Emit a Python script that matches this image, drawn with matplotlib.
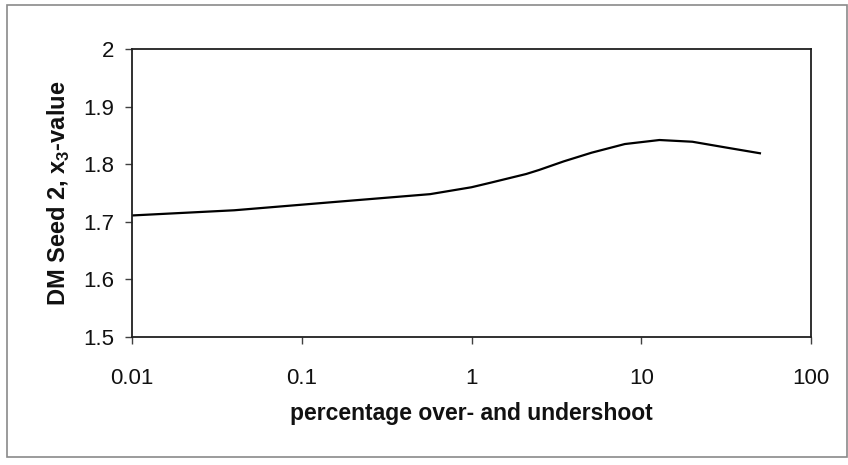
import matplotlib
matplotlib.use("Agg")
import matplotlib.pyplot as plt
from matplotlib.ticker import FuncFormatter, FixedLocator, NullLocator
from matplotlib.patches import Rectangle

plt.rcParams['font.family'] = ['Liberation Sans', 'DejaVu Sans']
plt.rcParams['mathtext.fontset'] = 'custom'
plt.rcParams['mathtext.rm'] = 'Liberation Sans:bold'
plt.rcParams['mathtext.bf'] = 'Liberation Sans:bold'

# percentage over- and undershoot vs x3 value for seed 2
pct = [0.01, 0.04, 0.15, 0.57, 1, 1.3, 2.1, 2.5, 3.5, 5.1, 8, 12.8, 20, 31.5, 50]
x3 = [1.711, 1.720, 1.734, 1.748, 1.760, 1.768, 1.783, 1.790, 1.805, 1.820,
      1.835, 1.842, 1.839, 1.829, 1.819]

x_ticks = [0.01, 0.1, 1, 10, 100]
y_ticks = [1.5, 1.6, 1.7, 1.8, 1.9, 2.0]

fig = plt.figure(figsize=(8.48, 4.65), dpi=100)
fig.patch.set_facecolor('white')

# chart area border
fig.add_artist(Rectangle((7 / 848, 8 / 465), 840 / 848, 452 / 465,
                         transform=fig.transFigure, fill=False,
                         edgecolor='#8a8a8a', linewidth=1.2))

ax = fig.add_axes([0.1557, 0.2753, 0.8007, 0.6193])
ax.plot(pct, x3, color='black', linewidth=1.6)

ax.set_xscale('log')
ax.set_xlim(0.01, 100)
ax.set_ylim(1.5, 2.0)
ax.xaxis.set_major_locator(FixedLocator(x_ticks))
ax.xaxis.set_minor_locator(NullLocator())
ax.yaxis.set_major_locator(FixedLocator(y_ticks))
fmt = FuncFormatter(lambda v, p: '%g' % v)
ax.xaxis.set_major_formatter(fmt)
ax.yaxis.set_major_formatter(fmt)

for s in ax.spines.values():
    s.set_color('#202020')
    s.set_linewidth(1.3)

ax.tick_params(axis='both', direction='out', length=5, width=1,
               color='#404040', labelsize=16, labelcolor='#111111')
ax.tick_params(axis='x', pad=17)
ax.tick_params(axis='y', pad=8)

ax.set_xlabel('percentage over- and undershoot', fontsize=16.5,
              fontweight='bold', labelpad=10, color='#111111')
ax.set_ylabel(r'DM Seed 2, x$_3$-value', fontsize=17,
              fontweight='bold', labelpad=8, color='#111111')

fig.savefig('out.png', dpi=100)
